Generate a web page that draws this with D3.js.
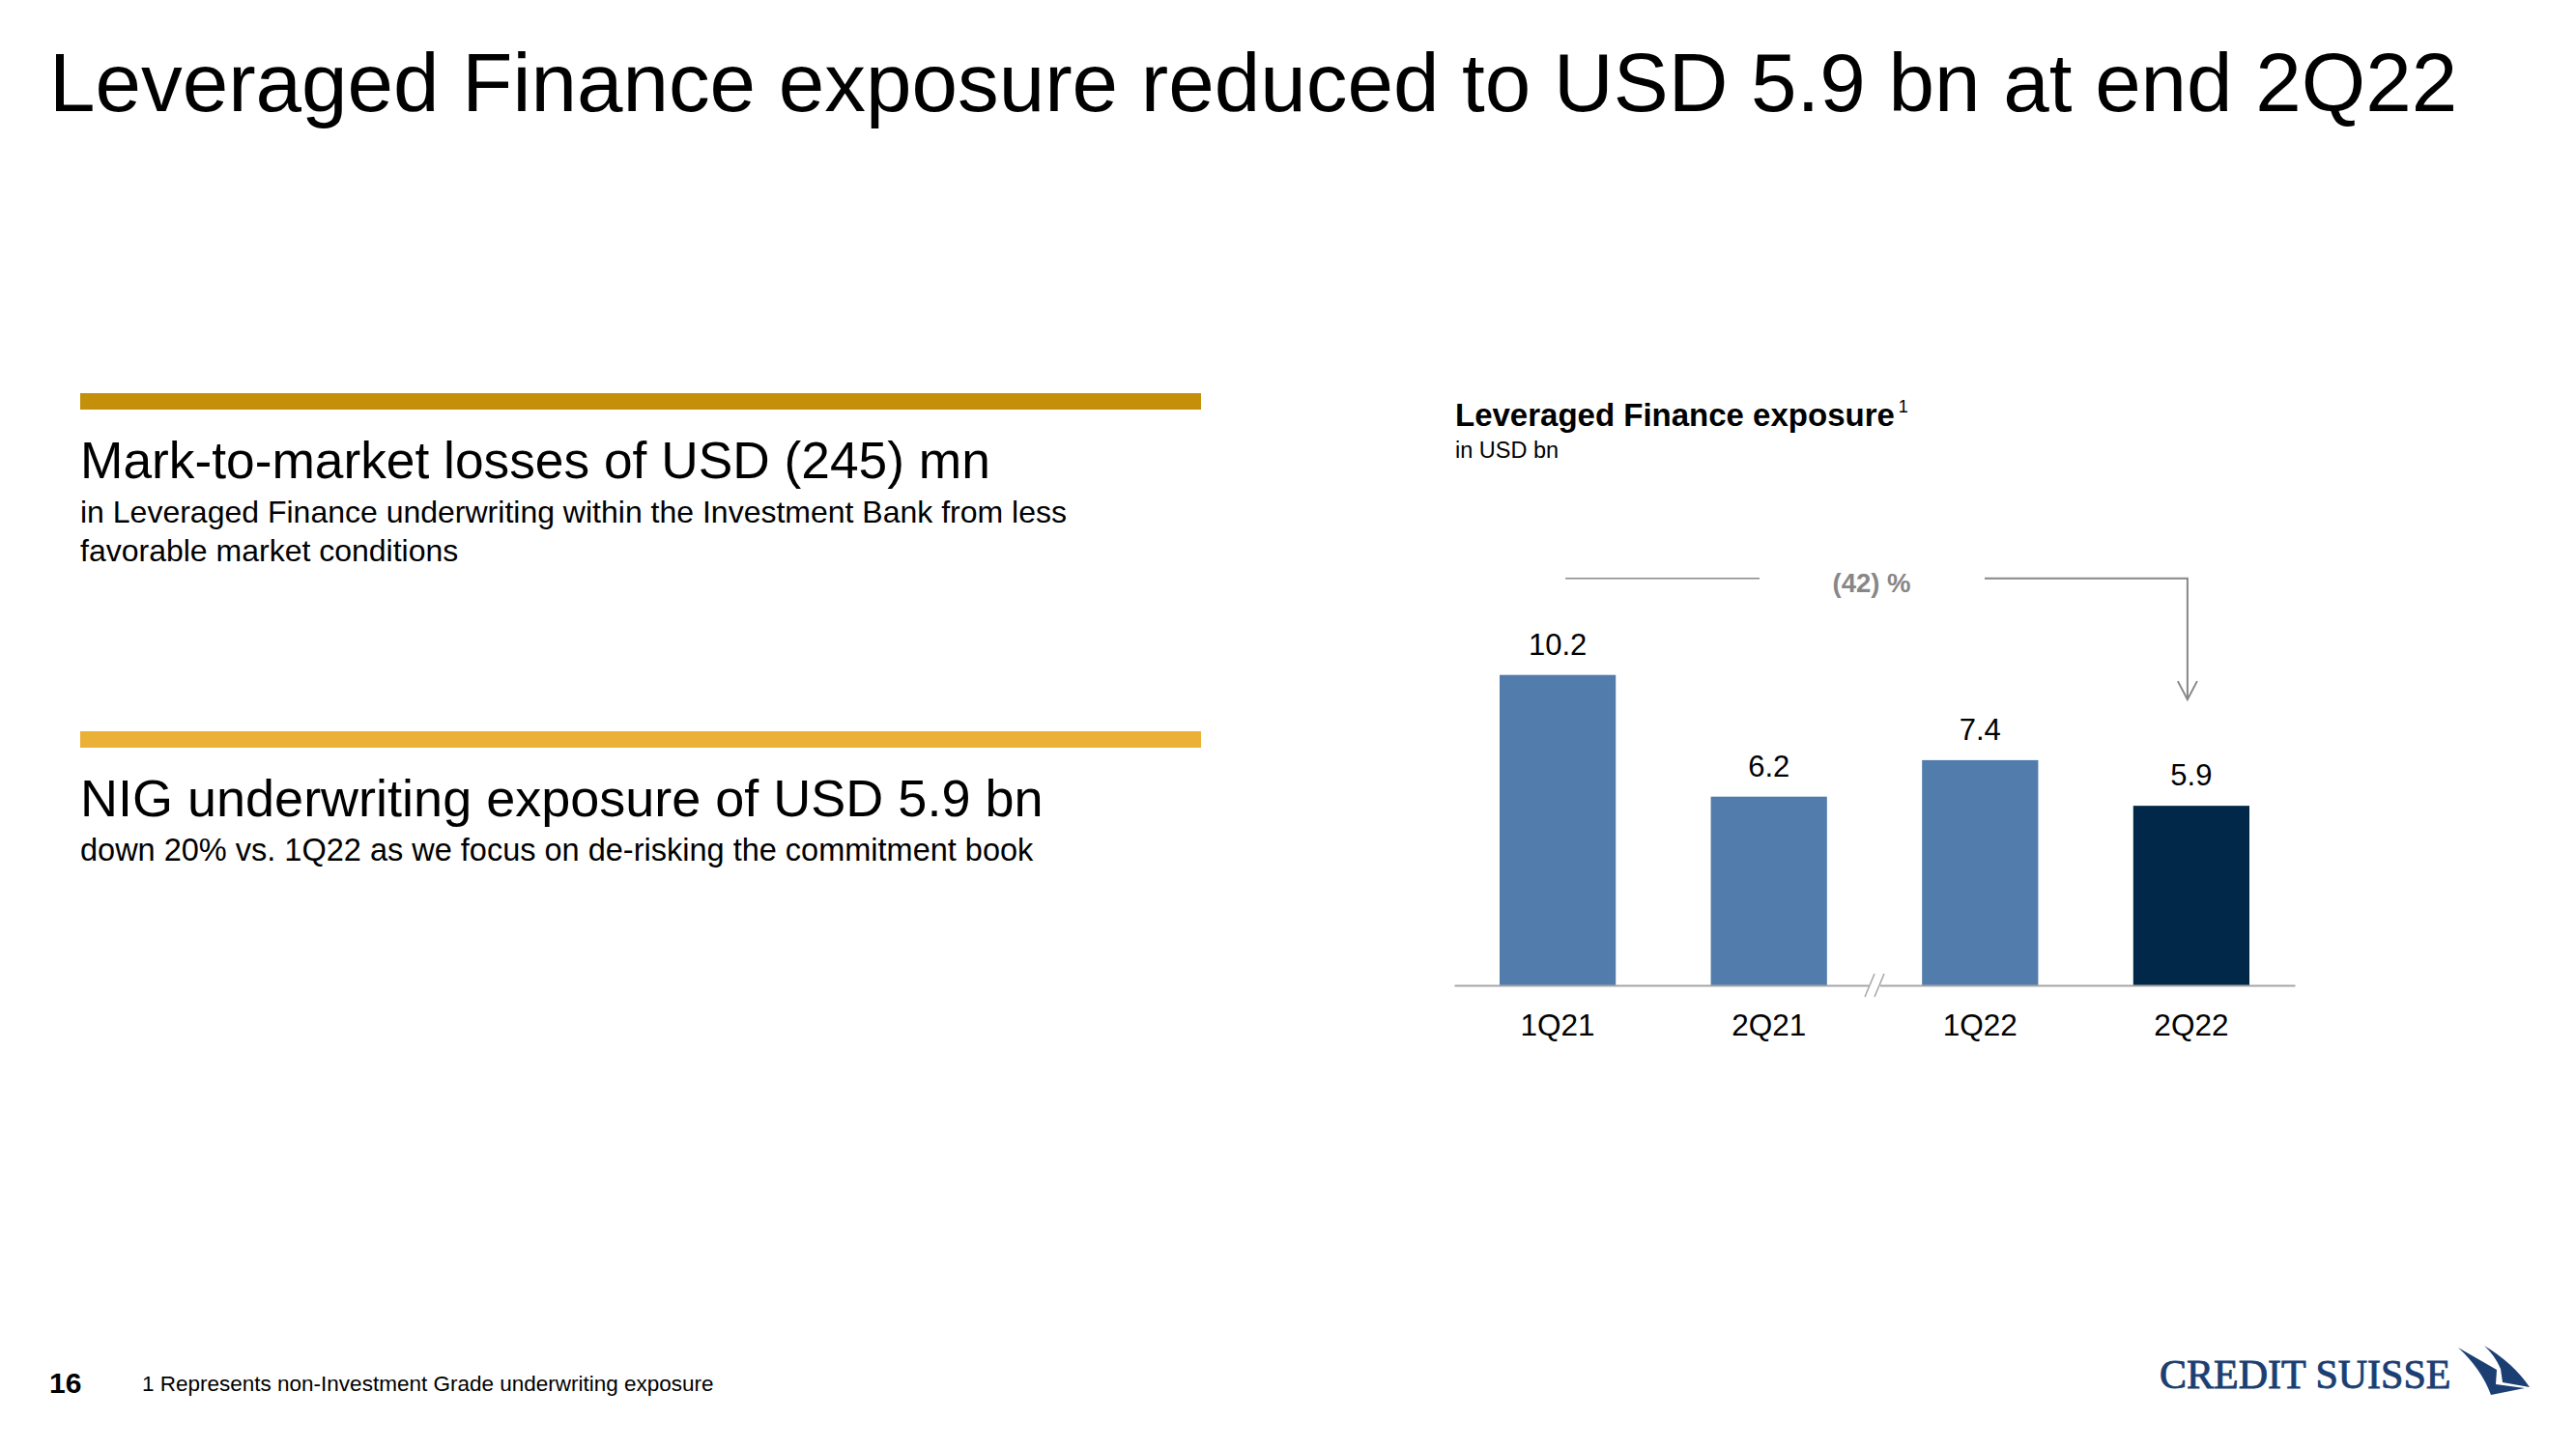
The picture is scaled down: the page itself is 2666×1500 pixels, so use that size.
<!DOCTYPE html>
<html>
<head>
<meta charset="utf-8">
<script src="https://cdn.jsdelivr.net/npm/d3@7/dist/d3.min.js"></script>
<style>
  html, body { margin: 0; padding: 0; background: #fff; }
  svg { display: block; font-family: "Liberation Sans", Arial, Helvetica, sans-serif; }
</style>
</head>
<body>
<script>
// ---- data ----
const categories = ["1Q21", "2Q21", "1Q22", "2Q22"];
const values = [10.2, 6.2, 7.4, 5.9];
const valueLabels = ["10.2", "6.2", "7.4", "5.9"];
const changeLabel = "(42) %";
const pageTitle = "Leveraged Finance exposure reduced to USD 5.9 bn at end 2Q22";
const chartTitle = "Leveraged Finance exposure";
const chartUnit = "in USD bn";
const bullets = [
  { head: "Mark-to-market losses of USD (245) mn",
    lines: ["in Leveraged Finance underwriting within the Investment Bank from less", "favorable market conditions"] },
  { head: "NIG underwriting exposure of USD 5.9 bn",
    lines: ["down 20% vs. 1Q22 as we focus on de-risking the commitment book"] }
];
const footnote = "1 Represents non-Investment Grade underwriting exposure";
const pageNumber = "16";

// ---- styles ----
const W = 2666, H = 1500;
const barLight = "#527cab", barDark = "#022849";
const goldColors = ["#c4900a", "#ebb036"];
const grey = "#878787";

const svg = d3.select("body").append("svg").attr("width", W).attr("height", H);

// page title
svg.append("text").attr("x", 51).attr("y", 115)
  .attr("font-size", 85.4).attr("fill", "#000").text(pageTitle);

// left bullets
const bulletTop = [407, 757];
const headSizes = [53.3, 54];
const subSizes = [32, 32.5];
bullets.forEach((b, i) => {
  const t = bulletTop[i];
  svg.append("rect").attr("x", 83).attr("y", t).attr("width", 1160).attr("height", 17)
    .attr("fill", goldColors[i]);
  svg.append("text").attr("x", 83).attr("y", t + 88).attr("font-size", headSizes[i])
    .attr("fill", "#000").text(b.head);
  b.lines.forEach((l, j) => {
    svg.append("text").attr("x", 83).attr("y", t + 134 + j * 40).attr("font-size", subSizes[i])
      .attr("fill", "#000").text(l);
  });
});

// chart titles
const ct = svg.append("text").attr("x", 1506).attr("y", 441).attr("font-size", 33)
  .attr("font-weight", "bold").attr("fill", "#000");
ct.append("tspan").text(chartTitle);
ct.append("tspan").attr("dx", 4).attr("dy", -14).attr("font-size", 18).attr("font-weight", "normal").text("1");
svg.append("text").attr("x", 1506).attr("y", 474).attr("font-size", 23.5).attr("fill", "#000").text(chartUnit);

// scales
const x = d3.scaleBand().domain(categories).range([1505, 2375])
  .paddingInner(0.45).paddingOuter(0.215);
const y = d3.scaleLinear().domain([0, 12]).range([1020, 1020 - 378]);

// bars
svg.append("g").selectAll("rect").data(values).join("rect")
  .attr("x", (d, i) => x(categories[i]))
  .attr("y", d => y(d))
  .attr("width", x.bandwidth())
  .attr("height", d => y(0) - y(d))
  .attr("fill", (d, i) => i === values.length - 1 ? barDark : barLight);

// value labels
svg.append("g").selectAll("text").data(values).join("text")
  .attr("x", (d, i) => x(categories[i]) + x.bandwidth() / 2)
  .attr("y", d => y(d) - 21)
  .attr("text-anchor", "middle").attr("font-size", 31).attr("fill", "#000")
  .text((d, i) => valueLabels[i]);

// axis
const axis = svg.append("g").attr("transform", `translate(0,${y(0)})`)
  .call(d3.axisBottom(x).tickSize(0).tickSizeOuter(0).tickPadding(30));
axis.select(".domain").attr("stroke", "#a6a6a6").attr("stroke-width", 2);
axis.selectAll(".tick text").attr("font-size", 31.5).attr("fill", "#000")
  .attr("font-family", "Liberation Sans, Arial, sans-serif");

// axis break
const bx = (x(categories[1]) + x.bandwidth() + x(categories[2])) / 2;
const by = y(0);
svg.append("rect").attr("x", bx - 6).attr("y", by - 3).attr("width", 12).attr("height", 6).attr("fill", "#fff");
[-5, 5].forEach(o => {
  svg.append("line").attr("x1", bx + o - 5).attr("y1", by + 12).attr("x2", bx + o + 5).attr("y2", by - 12)
    .attr("stroke", "#a6a6a6").attr("stroke-width", 1.5);
});

// change annotation
const ay = y(d3.max(values)) - 100;
const x0c = x(categories[0]) + x.bandwidth() / 2 + 8;
const xLast = x(categories[3]) + x.bandwidth() / 2 - 4;
const tipY = y(values[3]) - 110;
svg.append("line").attr("x1", x0c).attr("y1", ay).attr("x2", bx - 119).attr("y2", ay)
  .attr("stroke", grey).attr("stroke-width", 1.5);
svg.append("path")
  .attr("d", `M${bx + 114},${ay}H${xLast}V${tipY}`)
  .attr("fill", "none").attr("stroke", grey).attr("stroke-width", 2);
svg.append("path")
  .attr("d", `M${xLast - 10},${tipY - 19}L${xLast},${tipY}L${xLast + 10},${tipY - 19}`)
  .attr("fill", "none").attr("stroke", grey).attr("stroke-width", 2);
svg.append("text").attr("x", bx - 3).attr("y", ay + 14).attr("text-anchor", "middle")
  .attr("font-size", 27.5).attr("font-weight", "bold").attr("fill", grey).text(changeLabel);

// footer
svg.append("text").attr("x", 51).attr("y", 1442).attr("font-size", 30).attr("font-weight", "bold")
  .attr("fill", "#000").text(pageNumber);
svg.append("text").attr("x", 147).attr("y", 1440).attr("font-size", 22.5).attr("fill", "#000").text(footnote);

// logo
const logoColor = "#1b3f72";
svg.append("text").attr("x", 2235).attr("y", 1437)
  .attr("font-family", "Liberation Serif, Times New Roman, serif")
  .attr("font-size", 42).attr("fill", logoColor)
  .attr("stroke", logoColor).attr("stroke-width", 0.9).text("CREDIT SUISSE");
svg.append("path")
  .attr("d", "M2544,1395 L2584,1418 L2583,1433 L2613,1437 L2578,1444 Q2568,1417 2544,1395 Z")
  .attr("fill", logoColor);
svg.append("path")
  .attr("d", "M2571,1393 Q2601,1411 2618,1436 L2590,1431 L2588,1417 Q2582,1403 2571,1393 Z")
  .attr("fill", logoColor);
</script>
</body>
</html>
